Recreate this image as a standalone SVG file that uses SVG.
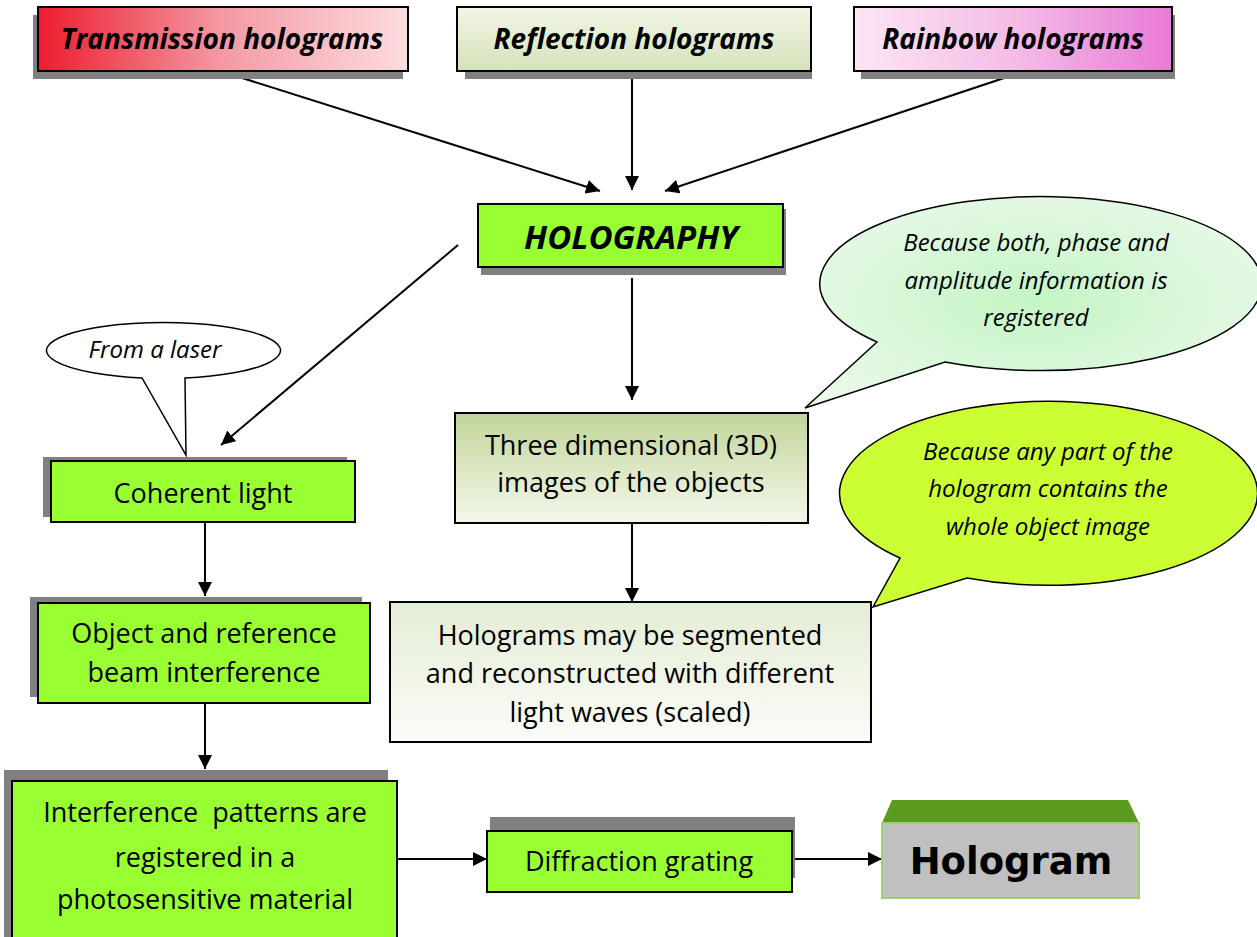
<svg xmlns="http://www.w3.org/2000/svg" width="1257" height="937" viewBox="0 0 1257 937">
<defs>
<linearGradient id="gTrans" x1="0" y1="0" x2="1" y2="0"><stop offset="0" stop-color="#ED1C2E"/><stop offset="0.5" stop-color="#F49AA4"/><stop offset="1" stop-color="#FCDCE0"/></linearGradient>
<linearGradient id="gRefl" x1="0" y1="0" x2="0" y2="1"><stop offset="0" stop-color="#F2F6E6"/><stop offset="1" stop-color="#D5E2BA"/></linearGradient>
<linearGradient id="gRain" x1="0" y1="0" x2="1" y2="0"><stop offset="0" stop-color="#FCE6F5"/><stop offset="0.5" stop-color="#F4BDE6"/><stop offset="1" stop-color="#E87AD6"/></linearGradient>
<linearGradient id="g3d" x1="0" y1="0" x2="0" y2="1"><stop offset="0" stop-color="#C2D59A"/><stop offset="1" stop-color="#F4F8EC"/></linearGradient>
<linearGradient id="gSeg" x1="0" y1="0" x2="0" y2="1"><stop offset="0" stop-color="#E4EDD6"/><stop offset="1" stop-color="#FBFCF7"/></linearGradient>
<radialGradient id="gBub" cx="0.5" cy="0.5" r="0.6"><stop offset="0" stop-color="#C4F5C4"/><stop offset="1" stop-color="#EAF9EA"/></radialGradient>
<marker id="ah" viewBox="0 0 10 10" refX="10" refY="5" markerWidth="14" markerHeight="14" markerUnits="userSpaceOnUse" orient="auto"><path d="M0,0 L10,5 L0,10 Z" fill="#000"/></marker>
</defs>
<style>
.sh{fill:#808080}
.box{stroke:#000;stroke-width:2}
.lime{fill:#99FF33}
.t{font-family:"Open Sans","Noto Sans",sans-serif;font-size:27px;fill:#000;text-anchor:middle}
.bi{font-family:"Open Sans","Noto Sans",sans-serif;font-size:28px;font-weight:bold;font-style:italic;fill:#000;text-anchor:middle}
.it{font-family:"Open Sans","Noto Sans",sans-serif;font-size:24px;font-style:italic;fill:#000;text-anchor:middle}
.con{stroke:#000;stroke-width:2;fill:none;marker-end:url(#ah)}
.bub{stroke:#000;stroke-width:1.5}
</style>

<g id="connectors">
<line class="con" x1="220" y1="71" x2="600" y2="191"/>
<line class="con" x1="632" y1="71" x2="632" y2="190"/>
<line class="con" x1="1025" y1="71" x2="665" y2="191"/>
<line class="con" x1="458" y1="245" x2="221" y2="445"/>
<line class="con" x1="632" y1="278" x2="632" y2="400"/>
<line class="con" x1="632" y1="523" x2="632" y2="602"/>
<line class="con" x1="205" y1="522" x2="205" y2="596"/>
<line class="con" x1="205" y1="703" x2="205" y2="769"/>
<line class="con" x1="397" y1="859" x2="487" y2="859"/>
<line class="con" x1="792" y1="859" x2="882" y2="859"/>
</g>

<g id="transmission">
<rect class="sh" x="33" y="15" width="370" height="64"/>
<rect class="box" x="38" y="7" width="370" height="64" fill="url(#gTrans)"/>
<text class="bi" x="222" y="49">Transmission holograms</text>
</g>

<g id="reflection">
<rect class="sh" x="465" y="15" width="347" height="64"/>
<rect class="box" x="457" y="7" width="354" height="64" fill="url(#gRefl)"/>
<text class="bi" x="634" y="49">Reflection holograms</text>
</g>

<g id="rainbow">
<rect class="sh" x="861" y="15" width="314" height="64"/>
<rect class="box" x="854" y="7" width="318" height="64" fill="url(#gRain)"/>
<text class="bi" x="1013" y="49">Rainbow holograms</text>
</g>

<g id="holography">
<rect class="sh" x="481" y="209" width="305" height="66"/>
<rect class="box lime" x="478" y="204" width="305" height="63"/>
<text class="bi" x="631" y="249" style="font-size:33px">HOLOGRAPHY</text>
</g>

<g id="bubble-phase">
<path class="bub" fill="url(#gBub)" d="M877,342 A221,87 0 1 1 945,362 L805,408 Z"/>
<text class="it" x="1036" y="251">Because both, phase and</text>
<text class="it" x="1036" y="289">amplitude information is</text>
<text class="it" x="1036" y="326">registered</text>
</g>

<g id="bubble-laser">
<path class="bub" fill="#fff" d="M142,378 A117,28 0 1 1 185,378 L186,455 Z"/>
<text class="it" x="155" y="358">From a laser</text>
</g>

<g id="coherent">
<rect class="sh" x="43" y="457" width="304" height="60"/>
<rect class="box lime" x="51" y="461" width="304" height="61"/>
<text class="t" x="203" y="503">Coherent light</text>
</g>

<g id="object-ref">
<rect class="sh" x="30" y="597" width="332" height="100"/>
<rect class="box lime" x="38" y="603" width="332" height="100"/>
<text class="t" x="204" y="643">Object and reference</text>
<text class="t" x="204" y="682">beam interference</text>
</g>

<g id="interference">
<rect class="sh" x="4" y="770" width="384" height="170"/>
<rect class="box lime" x="12" y="781" width="385" height="160"/>
<text class="t" x="205" y="822">Interference&#160; patterns are</text>
<text class="t" x="205" y="867">registered in a</text>
<text class="t" x="205" y="909">photosensitive material</text>
</g>

<g id="three-d">
<rect class="box" x="455" y="413" width="353" height="110" fill="url(#g3d)"/>
<text class="t" x="631" y="455">Three dimensional (3D)</text>
<text class="t" x="631" y="492">images of the objects</text>
</g>

<g id="bubble-part">
<path class="bub" fill="#CCFF33" d="M900,558 A209,92 0 1 1 967,578 L873,607 Z"/>
<text class="it" x="1048" y="460">Because any part of the</text>
<text class="it" x="1048" y="497">hologram contains the</text>
<text class="it" x="1048" y="535">whole object image</text>
</g>

<g id="segmented">
<rect class="box" x="390" y="602" width="481" height="140" fill="url(#gSeg)"/>
<text class="t" x="630" y="645">Holograms may be segmented</text>
<text class="t" x="630" y="683">and reconstructed with different</text>
<text class="t" x="630" y="722">light waves (scaled)</text>
</g>

<g id="diffraction">
<rect class="sh" x="490" y="817" width="305" height="61"/>
<rect class="box lime" x="487" y="831" width="305" height="61"/>
<text class="t" x="639" y="871">Diffraction grating</text>
</g>

<g id="hologram">
<polygon points="892,800 1128,800 1139,823 882,823" fill="#5A9A1E"/>
<rect x="882" y="823" width="257" height="75" fill="#C0C0C0" stroke="#9BCF6B" stroke-width="2"/>
<text x="1011" y="874" style="font-family:'DejaVu Sans',sans-serif;font-size:37px;font-weight:bold;text-anchor:middle;fill:#000">Hologram</text>
</g>
</svg>
